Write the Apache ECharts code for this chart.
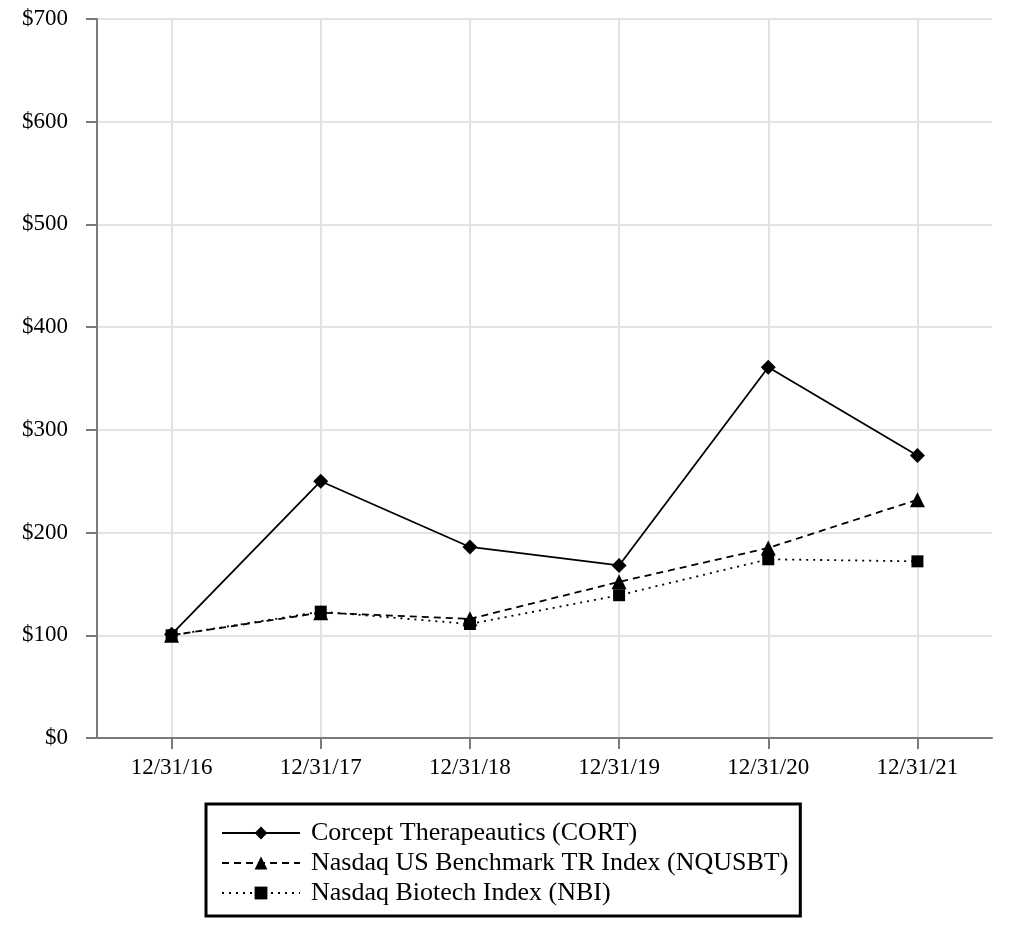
<!DOCTYPE html>
<html>
<head>
<meta charset="utf-8">
<script src="https://cdn.jsdelivr.net/npm/echarts@6/dist/echarts.min.js"></script>
<style>html,body{margin:0;padding:0;background:#fff}#c{width:1012px;height:936px}</style>
</head>
<body>
<div id="c"></div>
<script>
const categories = ['12/31/16','12/31/17','12/31/18','12/31/19','12/31/20','12/31/21'];
const cort = [101, 250, 186, 168, 361, 275];
const nqusbt = [100, 122, 116, 152, 185, 232];
const nbi = [100, 123, 111, 139, 174, 172];
const seriesNames = ['Corcept Therapeautics (CORT)','Nasdaq US Benchmark TR Index (NQUSBT)','Nasdaq Biotech Index (NBI)'];

const font = 'Liberation Serif';
const chart = echarts.init(document.getElementById('c'));
chart.setOption({
  animation: false,
  backgroundColor: '#fff',
  grid: {left: 97, right: 20, top: 19, bottom: 198, containLabel: false},
  xAxis: {
    type: 'category',
    data: categories,
    boundaryGap: true,
    axisLine: {lineStyle: {color: '#7a7a7a', width: 2}},
    axisTick: {show: true, alignWithLabel: true, length: 11, lineStyle: {color: '#7a7a7a', width: 2}},
    splitLine: {show: true, alignWithLabel: true, lineStyle: {color: '#e3e3e3', width: 2}},
    axisLabel: {color: '#000', fontFamily: font, fontSize: 23, margin: 18}
  },
  yAxis: {
    type: 'value',
    min: 0, max: 700, interval: 100,
    axisLine: {show: true, lineStyle: {color: '#7a7a7a', width: 2}},
    axisTick: {show: true, length: 11, lineStyle: {color: '#7a7a7a', width: 2}},
    splitLine: {show: true, lineStyle: {color: '#e3e3e3', width: 2}},
    axisLabel: {color: '#000', fontFamily: font, fontSize: 23, margin: 29, formatter: v => '$' + v}
  },
  legend: {
    orient: 'vertical',
    left: 206, top: 804,
    padding: [16, 12, 10, 15],
    borderColor: '#000', borderWidth: 3,
    itemWidth: 78, itemHeight: 16, itemGap: 4,
    textStyle: {fontFamily: font, fontSize: 26, color: '#000', padding: [0, 0, 0, 6]},
    data: seriesNames
  },
  series: [
    {name: seriesNames[0], type: 'line', data: cort, symbol: 'diamond', symbolSize: 15,
      lineStyle: {color: '#000', width: 1.8, type: 'solid'}, itemStyle: {color: '#000'}, z: 4},
    {name: seriesNames[1], type: 'line', data: nqusbt, symbol: 'triangle', symbolSize: 15,
      lineStyle: {color: '#000', width: 1.8, type: [7, 5]}, itemStyle: {color: '#000'}, z: 3},
    {name: seriesNames[2], type: 'line', data: nbi, symbol: 'rect', symbolSize: 12,
      lineStyle: {color: '#000', width: 1.8, type: [2, 5]}, itemStyle: {color: '#000'}, z: 3}
  ]
});
</script>
</body>
</html>
